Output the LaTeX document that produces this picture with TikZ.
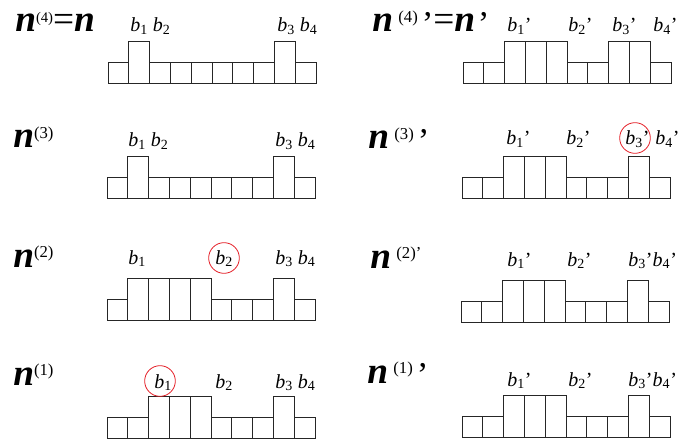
\documentclass[tikz,border=0pt]{standalone}
\usepackage{fontspec}
\setmainfont{Liberation Serif}
\usetikzlibrary{positioning}
\definecolor{MarkRed}{RGB}{228,32,40}

% big title letters
\newcommand{\bign}{{\fontsize{28}{28}\selectfont\bfseries\itshape n}}
\newcommand{\upidx}[2][12.5]{\raisebox{7pt}{\fontsize{#1}{#1}\selectfont(#2)}}
\newcommand{\bigeq}{{\fontsize{28}{28}\selectfont=}}
\newcommand{\bigpr}{\raisebox{-2.5pt}{\fontsize{26}{26}\selectfont ’}}
\newcommand{\bb}[1]{\textit{b}\textsubscript{#1}}

% one row of cells: left x, base y, list of heights
\newcommand{\cellrow}[3]{%
  \foreach \h [count=\i from 0] in {#3}
    \draw[cell] ({#1+\i*20.8},#2) rectangle ++(20.8,{-\h*20.6});
}

\begin{document}
\begin{tikzpicture}[
    x=0.75pt, y=-0.75pt,
    cell/.style={draw=black!85, line width=0.7pt},
    blab/.style={anchor=base west, inner sep=0pt,
                 font=\fontsize{15}{15}\selectfont},
    ttl/.style={anchor=base west, inner sep=0pt},
    ring/.style={circle, draw=MarkRed, line width=0.6pt,
                 minimum size=23pt, inner sep=0pt},
]
\useasboundingbox (0,0) rectangle (680,445);

% ── Left column: n^(4) ... n^(1) ──
\node[ttl] (t4) at (15,32) {\bign\upidx[11]{4}\bigeq\bign};
\node[ttl] (t3) at (13,148) {\bign\upidx{3}};
\node[ttl] (t2) at (13,267) {\bign\upidx{2}};
\node[ttl] (t1) at (13,385) {\bign\upidx{1}};

\cellrow{108}{83}{1,2,1,1,1,1,1,1,2,1}
\cellrow{107}{198}{1,2,1,1,1,1,1,1,2,1}
\cellrow{107}{320}{1,2,2,2,2,1,1,1,2,1}
\cellrow{107}{438}{1,1,2,2,2,1,1,1,2,1}

\node[blab] (l4a) at (130,32) {\bb1 \bb2};
\node[blab] (l4b) at (277,32) {\bb3 \bb4};
\node[blab] (l3a) at (128,147) {\bb1 \bb2};
\node[blab] (l3b) at (275,147) {\bb3 \bb4};
\node[blab] (l2a) at (128,264) {\bb1};
\node[blab] (l2b) at (215,264) {\bb2};
\node[blab] (l2c) at (275,264) {\bb3 \bb4};
\node[blab] (l1a) at (154,388) {\bb1};
\node[blab] (l1b) at (215,388) {\bb2};
\node[blab] (l1c) at (275,388) {\bb3 \bb4};

% ── Right column: primed rows ──
\node[ttl] (r4) at (372,32)
    {\bign\hspace{4pt}\upidx{4}\hspace{3pt}\bigpr\bigeq\bign\hspace{2pt}\bigpr};
\node[ttl] (r3) at (368,149) {\bign\hspace{4pt}\upidx{3}\hspace{3pt}\bigpr};
\node[ttl] (r2) at (370,268) {\bign\hspace{4pt}\upidx{2}{\fontsize{12.5}{12.5}\selectfont\raisebox{7pt}{’}}};
\node[ttl] (r1) at (367,383) {\bign\hspace{4pt}\upidx{1}\hspace{3pt}\bigpr};

\cellrow{463}{83}{1,1,2,2,2,1,1,2,2,1}
\cellrow{462}{198}{1,1,2,2,2,1,1,1,2,1}
\cellrow{461}{322}{1,1,2,2,2,1,1,1,2,1}
\cellrow{462}{437}{1,1,2,2,2,1,1,1,2,1}

\node[blab] (p4a) at (507,32) {\bb1’};
\node[blab] (p4b) at (568,32) {\bb2’};
\node[blab] (p4c) at (612,32) {\bb3’};
\node[blab] (p4d) at (653,32) {\bb4’};
\node[blab] (p3a) at (506,145) {\bb1’};
\node[blab] (p3b) at (566,145) {\bb2’};
\node[blab] (p3c) at (625,145) {\bb3’};
\node[blab] (p3d) at (655,145) {\bb4’};
\node[blab] (p2a) at (507,266) {\bb1’};
\node[blab] (p2b) at (567,266) {\bb2’};
\node[blab] (p2c) at (628,266) {\bb3’\bb4’};
\node[blab] (p1a) at (507,386) {\bb1’};
\node[blab] (p1b) at (568,386) {\bb2’};
\node[blab] (p1c) at (628,386) {\bb3’\bb4’};

% ── Red marks ──
\node[ring] (m3) at (635,138) {};
\node[ring] (m2) at (224,258) {};
\node[ring] (m1) at (160,381) {};

\end{tikzpicture}
\end{document}
